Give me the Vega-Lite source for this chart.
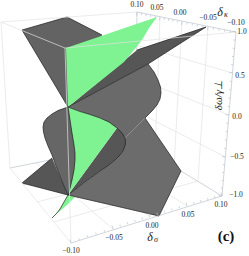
{"$schema":"https://vega.github.io/schema/vega-lite/v6.json","width":249,"height":256,"padding":0,"autosize":{"type":"fit","contains":"padding"},"background":"white","view":{"stroke":null},
"datasets":{
"segments":[
{"kind":"grid","u":113,"v":229,"u2":36,"v2":163},{"kind":"grid","u":150,"v":217,"u2":66,"v2":157},{"kind":"grid","u":187,"v":206,"u2":99,"v2":150},
{"kind":"grid","u":54,"v":222,"u2":198,"v2":181},{"kind":"grid","u":37,"v":202,"u2":174,"v2":167},{"kind":"grid","u":23,"v":185,"u2":155,"v2":155},
{"kind":"grid","u":160,"v":17,"u2":155,"v2":155},{"kind":"grid","u":182,"v":21.5,"u2":174,"v2":167},{"kind":"grid","u":208,"v":26.5,"u2":198,"v2":181},
{"kind":"grid","u":136.5,"v":45,"u2":232.5,"v2":73},{"kind":"grid","u":136,"v":78,"u2":229,"v2":115},{"kind":"grid","u":135.5,"v":111,"u2":225.5,"v2":157},
{"kind":"back","u":10,"v":168,"u2":135,"v2":143},{"kind":"back","u":222,"v":196,"u2":135,"v2":143},{"kind":"back","u":137,"v":12,"u2":135,"v2":143}],
"frame":[
{"kind":"edge","u":1,"v":22,"u2":137,"v2":12},{"kind":"edge","u":1,"v":22,"u2":65,"v2":48},{"kind":"edge","u":65,"v":48,"u2":236,"v2":32},{"kind":"edge","u":1,"v":22,"u2":10,"v2":168},{"kind":"edge","u":10,"v":168,"u2":71,"v2":243},{"kind":"edge","u":65,"v":48,"u2":71,"v2":243},
{"kind":"axis","u":137,"v":12,"u2":236,"v2":32},{"kind":"axis","u":236,"v":32,"u2":222,"v2":196},{"kind":"axis","u":71,"v":243,"u2":222,"v2":196},
{"kind":"axis","u":71,"v":243,"u2":70,"v2":239.5},{"kind":"axis","u":113,"v":229,"u2":112,"v2":225.5},{"kind":"axis","u":150,"v":217,"u2":149,"v2":213.5},{"kind":"axis","u":187,"v":206,"u2":186,"v2":202.5},{"kind":"axis","u":222,"v":196,"u2":221,"v2":192.5},
{"kind":"axis","u":79.4,"v":240.2,"u2":78.9,"v2":238.2},{"kind":"axis","u":87.8,"v":237.4,"u2":87.3,"v2":235.4},{"kind":"axis","u":96.2,"v":234.6,"u2":95.7,"v2":232.6},{"kind":"axis","u":104.6,"v":231.8,"u2":104.1,"v2":229.8},
{"kind":"axis","u":120.4,"v":226.6,"u2":119.9,"v2":224.6},{"kind":"axis","u":127.8,"v":224.2,"u2":127.3,"v2":222.2},{"kind":"axis","u":135.2,"v":221.8,"u2":134.7,"v2":219.8},{"kind":"axis","u":142.6,"v":219.4,"u2":142.1,"v2":217.4},
{"kind":"axis","u":157.4,"v":214.8,"u2":156.9,"v2":212.8},{"kind":"axis","u":164.8,"v":212.6,"u2":164.3,"v2":210.6},{"kind":"axis","u":172.2,"v":210.4,"u2":171.7,"v2":208.4},{"kind":"axis","u":179.6,"v":208.2,"u2":179.1,"v2":206.2},
{"kind":"axis","u":194,"v":204,"u2":193.5,"v2":202},{"kind":"axis","u":201,"v":202,"u2":200.5,"v2":200},{"kind":"axis","u":208,"v":200,"u2":207.5,"v2":198},{"kind":"axis","u":215,"v":198,"u2":214.5,"v2":196},
{"kind":"axis","u":137,"v":12,"u2":136.5,"v2":15.5},{"kind":"axis","u":160,"v":17,"u2":159.5,"v2":20.5},{"kind":"axis","u":182,"v":21.5,"u2":181.5,"v2":25},{"kind":"axis","u":208,"v":26.5,"u2":207.5,"v2":30},
{"kind":"axis","u":141.6,"v":13,"u2":141.3,"v2":15},{"kind":"axis","u":146.2,"v":14,"u2":145.9,"v2":16},{"kind":"axis","u":150.8,"v":15,"u2":150.5,"v2":17},{"kind":"axis","u":155.4,"v":16,"u2":155.1,"v2":18},
{"kind":"axis","u":164.4,"v":17.9,"u2":164.1,"v2":19.9},{"kind":"axis","u":168.8,"v":18.8,"u2":168.5,"v2":20.8},{"kind":"axis","u":173.2,"v":19.7,"u2":172.9,"v2":21.7},{"kind":"axis","u":177.6,"v":20.6,"u2":177.3,"v2":22.6},
{"kind":"axis","u":187.2,"v":22.5,"u2":186.9,"v2":24.5},{"kind":"axis","u":192.4,"v":23.5,"u2":192.1,"v2":25.5},{"kind":"axis","u":197.6,"v":24.5,"u2":197.3,"v2":26.5},{"kind":"axis","u":202.8,"v":25.5,"u2":202.5,"v2":27.5},
{"kind":"axis","u":213.6,"v":27.6,"u2":213.3,"v2":29.6},{"kind":"axis","u":219.2,"v":28.7,"u2":218.9,"v2":30.7},{"kind":"axis","u":224.8,"v":29.8,"u2":224.5,"v2":31.8},{"kind":"axis","u":230.4,"v":30.9,"u2":230.1,"v2":32.9},
{"kind":"axis","u":236,"v":32,"u2":232.5,"v2":31.5},{"kind":"axis","u":232.5,"v":73,"u2":229,"v2":72.5},{"kind":"axis","u":229,"v":115,"u2":225.5,"v2":114.5},{"kind":"axis","u":225.5,"v":157,"u2":222,"v2":156.5},{"kind":"axis","u":222,"v":196,"u2":218.5,"v2":195.5},
{"kind":"axis","u":235.3,"v":40.2,"u2":233.3,"v2":40},{"kind":"axis","u":234.6,"v":48.4,"u2":232.6,"v2":48.2},{"kind":"axis","u":233.9,"v":56.6,"u2":231.9,"v2":56.4},{"kind":"axis","u":233.2,"v":64.8,"u2":231.2,"v2":64.6},
{"kind":"axis","u":231.8,"v":81.4,"u2":229.8,"v2":81.2},{"kind":"axis","u":231.1,"v":89.8,"u2":229.1,"v2":89.6},{"kind":"axis","u":230.4,"v":98.2,"u2":228.4,"v2":98},{"kind":"axis","u":229.7,"v":106.6,"u2":227.7,"v2":106.4},
{"kind":"axis","u":228.3,"v":123.4,"u2":226.3,"v2":123.2},{"kind":"axis","u":227.6,"v":131.8,"u2":225.6,"v2":131.6},{"kind":"axis","u":226.9,"v":140.2,"u2":224.9,"v2":140},{"kind":"axis","u":226.2,"v":148.6,"u2":224.2,"v2":148.4},
{"kind":"axis","u":224.8,"v":164.8,"u2":222.8,"v2":164.6},{"kind":"axis","u":224.1,"v":172.6,"u2":222.1,"v2":172.4},{"kind":"axis","u":223.4,"v":180.4,"u2":221.4,"v2":180.2},{"kind":"axis","u":222.7,"v":188.2,"u2":220.7,"v2":188}],
"surfaces":[
{"part":"a","surface":"upper","i":1,"u":22,"v":30},{"part":"a","surface":"upper","i":2,"u":67,"v":17},{"part":"a","surface":"upper","i":3,"u":102,"v":35},{"part":"a","surface":"upper","i":4,"u":68,"v":107},
{"part":"b","surface":"dark","i":1,"u":22,"v":183},{"part":"b","surface":"dark","i":2,"u":52,"v":158},{"part":"b","surface":"dark","i":3,"u":68,"v":195},
{"part":"c","surface":"bulge","i":1,"u":68,"v":107},{"part":"c","surface":"bulge","i":2,"u":58,"v":110.5},{"part":"c","surface":"bulge","i":3,"u":52,"v":114},{"part":"c","surface":"bulge","i":4,"u":47,"v":118},{"part":"c","surface":"bulge","i":5,"u":44,"v":122},{"part":"c","surface":"bulge","i":6,"u":43,"v":127},{"part":"c","surface":"bulge","i":7,"u":43.5,"v":132},{"part":"c","surface":"bulge","i":8,"u":45,"v":138},{"part":"c","surface":"bulge","i":9,"u":48,"v":146},{"part":"c","surface":"bulge","i":10,"u":52,"v":155},{"part":"c","surface":"bulge","i":11,"u":56,"v":166},{"part":"c","surface":"bulge","i":12,"u":60,"v":176},{"part":"c","surface":"bulge","i":13,"u":64,"v":186},{"part":"c","surface":"bulge","i":14,"u":68,"v":195},{"part":"c","surface":"bulge","i":15,"u":84,"v":155},
{"part":"d","surface":"lower","i":1,"u":68,"v":195},{"part":"d","surface":"lower","i":2,"u":100,"v":171},{"part":"d","surface":"lower","i":3,"u":115,"v":160},{"part":"d","surface":"lower","i":4,"u":123,"v":151},{"part":"d","surface":"lower","i":5,"u":125,"v":138},{"part":"d","surface":"lower","i":6,"u":145,"v":118},{"part":"d","surface":"lower","i":7,"u":181,"v":171},{"part":"d","surface":"lower","i":8,"u":159,"v":216},
{"part":"e","surface":"middle","i":1,"u":68,"v":107},{"part":"e","surface":"middle","i":2,"u":148,"v":64},{"part":"e","surface":"middle","i":3,"u":154,"v":72},{"part":"e","surface":"middle","i":4,"u":158,"v":80},{"part":"e","surface":"middle","i":5,"u":160.5,"v":87},{"part":"e","surface":"middle","i":6,"u":161,"v":93},{"part":"e","surface":"middle","i":7,"u":160,"v":99},{"part":"e","surface":"middle","i":8,"u":157,"v":105},{"part":"e","surface":"middle","i":9,"u":152,"v":111},{"part":"e","surface":"middle","i":10,"u":145,"v":118},{"part":"e","surface":"middle","i":11,"u":125,"v":138},{"part":"e","surface":"middle","i":12,"u":117,"v":128},{"part":"e","surface":"middle","i":13,"u":100,"v":118},{"part":"e","surface":"middle","i":14,"u":80,"v":111.5},
{"part":"f","surface":"dark","i":1,"u":68,"v":107},{"part":"f","surface":"dark","i":2,"u":137,"v":50},{"part":"f","surface":"dark","i":3,"u":206,"v":27},{"part":"f","surface":"dark","i":4,"u":148,"v":64},
{"part":"g","surface":"dark","i":1,"u":117,"v":128},{"part":"g","surface":"dark","i":2,"u":122,"v":133},{"part":"g","surface":"dark","i":3,"u":125,"v":138},{"part":"g","surface":"dark","i":4,"u":125.5,"v":144},{"part":"g","surface":"dark","i":5,"u":123,"v":151},{"part":"g","surface":"dark","i":6,"u":119,"v":156},{"part":"g","surface":"dark","i":7,"u":115,"v":160},{"part":"g","surface":"dark","i":8,"u":108,"v":165.5},{"part":"g","surface":"dark","i":9,"u":100,"v":171},{"part":"g","surface":"dark","i":10,"u":85,"v":182},{"part":"g","surface":"dark","i":11,"u":68,"v":195},
{"part":"h","surface":"green","i":1,"u":66,"v":48},{"part":"h","surface":"green","i":2,"u":157,"v":17},{"part":"h","surface":"green","i":3,"u":149,"v":28},{"part":"h","surface":"green","i":4,"u":142,"v":40},{"part":"h","surface":"green","i":5,"u":134,"v":50},{"part":"h","surface":"green","i":6,"u":124,"v":62},{"part":"h","surface":"green","i":7,"u":68,"v":107},
{"part":"j","surface":"green","i":1,"u":68,"v":107},{"part":"j","surface":"green","i":2,"u":80,"v":111.5},{"part":"j","surface":"green","i":3,"u":90,"v":114.5},{"part":"j","surface":"green","i":4,"u":100,"v":118},{"part":"j","surface":"green","i":5,"u":109,"v":122},{"part":"j","surface":"green","i":6,"u":117,"v":128},{"part":"j","surface":"green","i":7,"u":68,"v":195},{"part":"j","surface":"green","i":8,"u":70,"v":188},{"part":"j","surface":"green","i":9,"u":72,"v":180},{"part":"j","surface":"green","i":10,"u":74,"v":170},{"part":"j","surface":"green","i":11,"u":75,"v":160},{"part":"j","surface":"green","i":12,"u":75,"v":153},{"part":"j","surface":"green","i":13,"u":74,"v":145},{"part":"j","surface":"green","i":14,"u":72,"v":133},{"part":"j","surface":"green","i":15,"u":70,"v":120},
{"part":"k","surface":"green","i":1,"u":68,"v":195},{"part":"k","surface":"green","i":2,"u":75,"v":197},{"part":"k","surface":"green","i":3,"u":68,"v":204},{"part":"k","surface":"green","i":4,"u":60,"v":211},{"part":"k","surface":"green","i":5,"u":52,"v":218},{"part":"k","surface":"green","i":6,"u":56,"v":214},{"part":"k","surface":"green","i":7,"u":60,"v":209},{"part":"k","surface":"green","i":8,"u":64,"v":202}],
"curves":[
{"c":"c1","i":1,"u":22,"v":183},{"c":"c1","i":2,"u":68,"v":195},{"c":"c1","i":3,"u":159,"v":216},{"c":"c1","i":4,"u":181,"v":171},{"c":"c1","i":5,"u":145,"v":118},{"c":"c1","i":6,"u":152,"v":111},{"c":"c1","i":7,"u":157,"v":105},{"c":"c1","i":8,"u":160,"v":99},{"c":"c1","i":9,"u":161,"v":93},{"c":"c1","i":10,"u":160.5,"v":87},{"c":"c1","i":11,"u":158,"v":80},{"c":"c1","i":12,"u":154,"v":72},{"c":"c1","i":13,"u":148,"v":64},{"c":"c1","i":14,"u":206,"v":27},{"c":"c1","i":15,"u":137,"v":50},
{"c":"c2","i":1,"u":68,"v":107},{"c":"c2","i":2,"u":148,"v":64},
{"c":"c3","i":1,"u":68,"v":107},{"c":"c3","i":2,"u":80,"v":111.5},{"c":"c3","i":3,"u":90,"v":114.5},{"c":"c3","i":4,"u":100,"v":118},{"c":"c3","i":5,"u":109,"v":122},{"c":"c3","i":6,"u":117,"v":128},{"c":"c3","i":7,"u":122,"v":133},{"c":"c3","i":8,"u":125,"v":138},{"c":"c3","i":9,"u":125.5,"v":144},{"c":"c3","i":10,"u":123,"v":151},{"c":"c3","i":11,"u":119,"v":156},{"c":"c3","i":12,"u":115,"v":160},{"c":"c3","i":13,"u":108,"v":165.5},{"c":"c3","i":14,"u":100,"v":171},{"c":"c3","i":15,"u":85,"v":182},{"c":"c3","i":16,"u":68,"v":195},{"c":"c3","i":17,"u":64,"v":202},{"c":"c3","i":18,"u":60,"v":209},{"c":"c3","i":19,"u":56,"v":214},{"c":"c3","i":20,"u":52,"v":218},
{"c":"c4","i":1,"u":68,"v":107},{"c":"c4","i":2,"u":58,"v":110.5},{"c":"c4","i":3,"u":52,"v":114},{"c":"c4","i":4,"u":47,"v":118},{"c":"c4","i":5,"u":44,"v":122},{"c":"c4","i":6,"u":43,"v":127},{"c":"c4","i":7,"u":43.5,"v":132},{"c":"c4","i":8,"u":45,"v":138},{"c":"c4","i":9,"u":48,"v":146},{"c":"c4","i":10,"u":52,"v":155},{"c":"c4","i":11,"u":56,"v":166},{"c":"c4","i":12,"u":60,"v":176},{"c":"c4","i":13,"u":64,"v":186},{"c":"c4","i":14,"u":68,"v":195},
{"c":"c5","i":1,"u":68,"v":107},{"c":"c5","i":2,"u":70,"v":120},{"c":"c5","i":3,"u":72,"v":133},{"c":"c5","i":4,"u":74,"v":145},{"c":"c5","i":5,"u":75,"v":153},{"c":"c5","i":6,"u":75,"v":160},{"c":"c5","i":7,"u":74,"v":170},{"c":"c5","i":8,"u":72,"v":180},{"c":"c5","i":9,"u":70,"v":188},{"c":"c5","i":10,"u":68,"v":195},
{"c":"c6","i":1,"u":68,"v":107},{"c":"c6","i":2,"u":22,"v":30},{"c":"c6","i":3,"u":67,"v":17},{"c":"c6","i":4,"u":102,"v":35},
{"c":"c7","i":1,"u":22,"v":183},{"c":"c7","i":2,"u":52,"v":158}],
"labels":[
{"text":"0.10","u":137,"v":5},{"text":"0.05","u":157,"v":8},{"text":"0.00","u":180,"v":13},{"text":"−0.05","u":208,"v":18},{"text":"−0.10","u":236,"v":23},
{"text":"1.0","u":242,"v":32},{"text":"0.5","u":240,"v":76},{"text":"0.0","u":237,"v":117},{"text":"−0.5","u":237,"v":157},{"text":"−1.0","u":236,"v":195},
{"text":"−0.10","u":71,"v":251},{"text":"−0.05","u":114,"v":238},{"text":"0.00","u":152,"v":226},{"text":"0.05","u":188,"v":215},{"text":"0.10","u":221,"v":205}],
"titles":[{"text":"δ","u":220,"v":12},{"text":"δ","u":150,"v":237}],
"subs":[{"text":"κ","u":226,"v":15},{"text":"σ","u":156,"v":240}],
"vtitle":[{"text":"δω/γ⊥","u":219,"v":95}],
"panel":[{"text":"(c)","u":226,"v":236}]},
"encoding":{"x":{"field":"u","type":"quantitative","scale":{"domain":[0,249],"nice":false,"zero":false},"axis":null},"y":{"field":"v","type":"quantitative","scale":{"domain":[256,0],"nice":false,"zero":false},"axis":null}},
"layer":[
{"data":{"name":"segments"},"mark":{"type":"rule"},"encoding":{"x2":{"field":"u2"},"y2":{"field":"v2"},"stroke":{"field":"kind","type":"nominal","legend":null,"scale":{"domain":["grid","back"],"range":["#e2e2e2","#bcc3cd"]}},"strokeWidth":{"value":0.7}}},
{"data":{"name":"surfaces"},"mark":{"type":"line","filled":true,"interpolate":"linear-closed","strokeWidth":0},"encoding":{"detail":{"field":"part"},"order":{"field":"i"},"fill":{"field":"surface","type":"nominal","legend":null,"sort":null,"scale":{"domain":["upper","dark","bulge","lower","middle","green"],"range":["#636363","#565656","#666666","#6c6c6c","#6a6a6a","#7ff292"]}}}},
{"data":{"name":"curves"},"mark":{"type":"line","color":"#1c1c1c","strokeWidth":0.7,"interpolate":"linear"},"encoding":{"detail":{"field":"c"},"order":{"field":"i"}}},
{"data":{"name":"frame"},"mark":{"type":"rule"},"encoding":{"x2":{"field":"u2"},"y2":{"field":"v2"},"stroke":{"field":"kind","type":"nominal","legend":null,"scale":{"domain":["edge","axis"],"range":["#5d6d88","#56759c"]}},"strokeWidth":{"value":0.7}}},
{"data":{"name":"labels"},"mark":{"type":"text","font":"Liberation Serif","fontSize":7.5,"color":"#222"},"encoding":{"text":{"field":"text"}}},
{"data":{"name":"titles"},"mark":{"type":"text","font":"Liberation Serif","fontSize":12,"fontStyle":"italic","color":"#222"},"encoding":{"text":{"field":"text"}}},
{"data":{"name":"subs"},"mark":{"type":"text","font":"Liberation Serif","fontSize":8,"fontStyle":"italic","color":"#222"},"encoding":{"text":{"field":"text"}}},
{"data":{"name":"vtitle"},"mark":{"type":"text","font":"Liberation Serif","fontSize":11,"fontStyle":"italic","angle":270,"color":"#222"},"encoding":{"text":{"field":"text"}}},
{"data":{"name":"panel"},"mark":{"type":"text","font":"Liberation Serif","fontSize":15,"fontWeight":"bold","color":"#111"},"encoding":{"text":{"field":"text"}}}
]}
